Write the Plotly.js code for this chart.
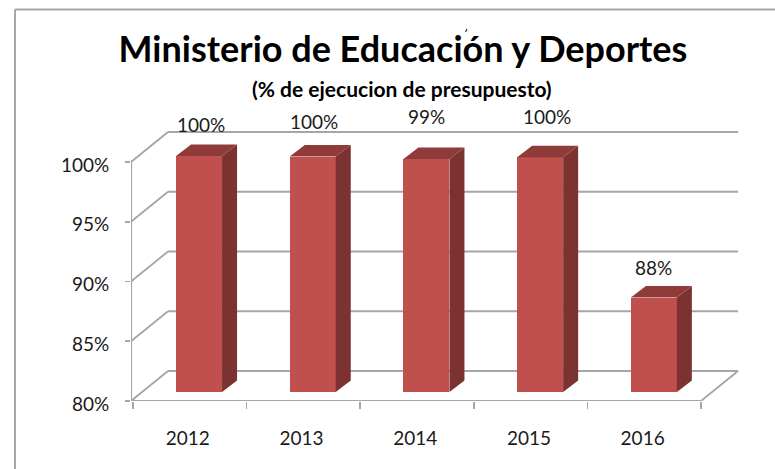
<!DOCTYPE html>
<html><head><meta charset="utf-8">
<script src="https://cdn.plot.ly/plotly-3.0.1.min.js"></script>
<style>html,body{margin:0;padding:0;background:#fff}</style></head>
<body><div id="c" style="width:775px;height:469px"></div>
<script>
const years=[2012,2013,2014,2015,2016];
const values=[100,99.95,99.75,99.9,88];
const labels=['100%','100%','99%','100%','88%'];
const yTicks=[80,85,90,95,100];
const yTickText=['80%','85%','90%','95%','100%'];
const titleText='Ministerio de Educación y Deportes';
const subtitleText='(% de ejecucion de presupuesto)';

// pixel geometry of the frame
const W=775,H=469,mL=131,mR=30,mT=126,mB=68;
const pxX=113.7,pxY=11.95;
const xMin=2011.5-1.7/pxX, xMax=xMin+(W-mL-mR)/pxX;
const yMin=80, yMax=80+(H-mT-mB)/pxY;
const x2p=p=>xMin+(p-mL)/pxX;
const y2p=p=>80+(H-mB-p)/pxY;
const wallDX=37/pxX, wallDY=30/pxY;
const xFront=x2p(131), xFrontEnd=x2p(701);
const grey='#a6a6a6';
const seg=(x0,y0,x1,y1,w)=>({type:'line',xref:'x',yref:'y',x0,y0,x1,y1,layer:'below',line:{color:grey,width:w||1.8}});
const shapes=[];
yTicks.forEach(v=>{
  shapes.push(seg(xFront,v,xFront+wallDX,v+wallDY));
  shapes.push(seg(xFront+wallDX,v+wallDY,xFrontEnd+wallDX,v+wallDY));
});
shapes.push(seg(xFront,80,xFront,100,2.2));
shapes.push(seg(xFront,80,xFrontEnd,80,2));
shapes.push(seg(xFrontEnd,80,xFrontEnd+wallDX,80+wallDY));
// outer frame
const fx=p=>(p-mL)/(W-mL-mR), fy=p=>(H-mB-p)/(H-mT-mB);
shapes.push({type:'line',xref:'paper',yref:'paper',x0:fx(15),y0:fy(9.5),x1:fx(775),y1:fy(9.5),line:{color:grey,width:2}});
shapes.push({type:'line',xref:'paper',yref:'paper',x0:fx(15),y0:fy(9.5),x1:fx(15),y1:fy(469),line:{color:grey,width:2}});
// small stray mark above the accent of the title
shapes.push({type:'line',xref:'paper',yref:'paper',x0:fx(467),y0:fy(29),x1:fx(465.5),y1:fy(32),line:{color:'#333',width:1.2}});

// bar projection
const barShift=9.5/pxX, barW=46/pxX, sideDX=15/pxX, sideDY=11.5/pxY;
const barBase=y2p(392), barScale=11.8/pxY;
const proj=v=>barBase+(v-80)*barScale;
const barX=years.map(y=>y+barShift);
const traces=[{type:'bar',x:barX,y:values.map(v=>proj(v)-barBase),base:barBase,width:barW,
  marker:{color:'#c0504d',line:{width:0}},hoverinfo:'skip',showlegend:false}];
barX.forEach((cx,i)=>{
  const r=cx+barW/2,l=cx-barW/2,t=proj(values[i]);
  traces.push({type:'scatter',mode:'lines',x:[r,r+sideDX,r+sideDX,r,r],y:[barBase,barBase+sideDY,t+sideDY,t,barBase],
    fill:'toself',fillcolor:'#7b3230',line:{width:0},hoverinfo:'skip',showlegend:false});
  traces.push({type:'scatter',mode:'lines',x:[l,r,r+sideDX,l+sideDX,l],y:[t,t,t+sideDY,t+sideDY,t],
    fill:'toself',fillcolor:'#8f3b39',line:{width:0},hoverinfo:'skip',showlegend:false});
});
const labelDX=[2,1,0,7,0], labelDY=[32,35,42,41,30];
const annotations=barX.map((cx,i)=>({x:cx,y:proj(values[i]),xref:'x',yref:'y',text:labels[i],showarrow:false,
  xanchor:'center',yanchor:'middle',xshift:labelDX[i],yshift:labelDY[i],font:{family:'Lato',size:19,color:'#1a1a1a'}}));
annotations.push({xref:'paper',yref:'paper',x:fx(401.5),y:fy(88),text:'<b>'+subtitleText+'</b>',showarrow:false,
  xanchor:'center',yanchor:'middle',font:{family:'Lato',size:21,color:'#000'}});
Plotly.newPlot('c',traces,{
  width:W,height:H,margin:{l:mL,r:mR,t:mT,b:mB,pad:0},
  paper_bgcolor:'#fff',plot_bgcolor:'#fff',showlegend:false,bargap:0,
  title:{text:'<b>'+titleText+'</b>',xref:'container',yref:'container',x:403/W,xanchor:'center',y:1-49/H,yanchor:'middle',
    font:{family:'Lato',size:36,color:'#000'}},
  xaxis:{type:'linear',range:[xMin,xMax],tickmode:'array',tickvals:years.map(y=>y-0.015),ticktext:years.map(String),
    ticks:'outside',ticklen:20,tickcolor:'rgba(0,0,0,0)',showgrid:false,zeroline:false,showline:false,
    tickfont:{family:'Lato',size:19,color:'#1a1a1a'},
    minor:{ticks:'outside',ticklen:7,tickwidth:1.8,tickcolor:grey,tick0:2011.5,dtick:1,showgrid:false}},
  yaxis:{type:'linear',range:[yMin,yMax],tickmode:'array',tickvals:yTicks,ticktext:yTickText,
    ticks:'outside',ticklen:5,tickwidth:1.8,tickcolor:grey,showgrid:false,zeroline:false,showline:false,
    ticklabelstandoff:12,ticklabelshift:3,
    tickfont:{family:'Lato',size:19,color:'#1a1a1a'}},
  shapes,annotations
},{displayModeBar:false,staticPlot:true});
</script></body></html>
